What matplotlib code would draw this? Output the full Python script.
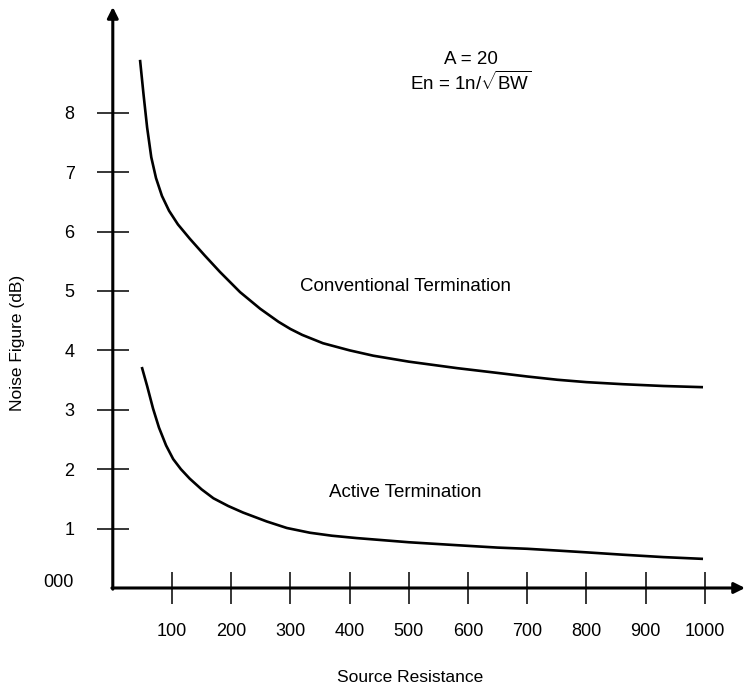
#!/usr/bin/env python3

import matplotlib
matplotlib.use("Agg")
import matplotlib.pyplot as plt

plt.rcParams['font.family'] = ['Liberation Sans', 'DejaVu Sans']
plt.rcParams['mathtext.fontset'] = 'custom'
plt.rcParams['mathtext.rm'] = 'Liberation Sans'

# Source resistance vs noise figure
conv_r = [46, 52, 58, 65, 73, 83, 95, 110, 130, 155, 181, 215, 249, 280, 300,
          320, 355, 400, 440, 500, 582, 650, 700, 751, 800, 862, 930, 997]
conv_nf = [8.89, 8.3, 7.75, 7.25, 6.9, 6.6, 6.35, 6.12, 5.88, 5.6, 5.32, 4.98,
           4.70, 4.48, 4.36, 4.26, 4.12, 4.00, 3.91, 3.81, 3.70, 3.62, 3.56,
           3.505, 3.465, 3.43, 3.40, 3.38]

act_r = [49, 58, 68, 78, 90, 102, 115, 130, 150, 170, 195, 220, 260, 294, 333,
         370, 412, 500, 582, 650, 700, 751, 800, 862, 930, 997]
act_nf = [3.72, 3.4, 3.02, 2.7, 2.4, 2.17, 2.0, 1.84, 1.66, 1.51, 1.38, 1.27,
          1.12, 1.01, 0.93, 0.88, 0.84, 0.77, 0.72, 0.68, 0.66, 0.63, 0.60,
          0.56, 0.52, 0.49]

x_ticks = [100, 200, 300, 400, 500, 600, 700, 800, 900, 1000]
y_ticks = [1, 2, 3, 4, 5, 6, 7, 8]

fig = plt.figure(figsize=(7.46, 6.89), dpi=100)
ax = fig.add_axes([0.1512, 0.1466, 0.8475, 0.8433])
ax.set_xlim(0, 1068)
ax.set_ylim(0, 9.78)

for sp in ax.spines.values():
    sp.set_visible(False)

ax.plot(conv_r, conv_nf, color='black', lw=1.9, solid_capstyle='butt',
        solid_joinstyle='round')
ax.plot(act_r, act_nf, color='black', lw=1.9, solid_capstyle='butt',
        solid_joinstyle='round')

# axes with arrow heads
ax.annotate('', xy=(1068, 0), xytext=(-1.5, 0),
            arrowprops=dict(arrowstyle='-|>', lw=2.2, color='black',
                            shrinkA=0, shrinkB=0, mutation_scale=16),
            annotation_clip=False)
ax.annotate('', xy=(0, 9.78), xytext=(0, -0.02),
            arrowprops=dict(arrowstyle='-|>', lw=2.2, color='black',
                            shrinkA=0, shrinkB=0, mutation_scale=16),
            annotation_clip=False)

ax.set_xticks(x_ticks)
ax.set_xticklabels([str(v) for v in x_ticks])
ax.set_yticks(y_ticks)
ax.set_yticklabels([str(v) for v in y_ticks])
ax.tick_params(axis='both', direction='inout', length=23, width=1.1,
               labelsize=13)
ax.tick_params(axis='x', pad=14)
ax.tick_params(axis='y', pad=16)

ax.text(-67, 0.1, '000', ha='right', va='center', fontsize=13)

ax.text(494, 5.08, 'Conventional Termination', ha='center', va='center', fontsize=13.5)
ax.text(494, 1.6, 'Active Termination', ha='center', va='center', fontsize=13.5)

fig.text(471 / 746, 1 - 60 / 689, 'A = 20', ha='center', va='center', fontsize=13.5)
fig.text(471 / 746, 1 - 82 / 689, r'En = 1n/$\sqrt{\mathrm{BW}}$', ha='center',
         va='center', fontsize=13.5)

fig.text(410 / 746, 1 - 678 / 689, 'Source Resistance', ha='center', va='center', fontsize=12.5)
fig.text(18 / 746, 1 - 343 / 689, 'Noise Figure (dB)', ha='center', va='center',
         rotation=90, fontsize=12.5)

fig.savefig('out.png', dpi=100)
